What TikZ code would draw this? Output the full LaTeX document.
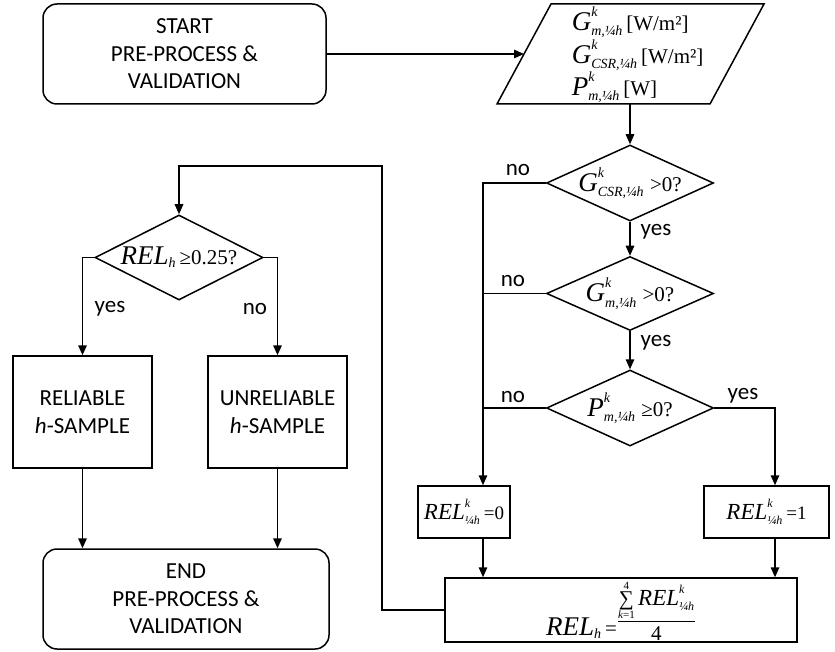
\documentclass[tikz,border=0pt]{standalone}
\usepackage{fontspec}
\setmainfont{Carlito}
\newfontfamily\timesf{Liberation Serif}
\usetikzlibrary{arrows.meta,shapes.geometric}
\newcommand\bigv[1]{\mbox{\fontsize{27}{30}\selectfont\timesf\itshape #1}}
\newcommand\midv[1]{\mbox{\fontsize{23}{27}\selectfont\timesf\itshape #1}}
\newcommand\smv[1]{\mbox{\fontsize{14}{15}\selectfont\timesf\itshape #1}}
\newcommand\ssv[1]{\mbox{\fontsize{12}{13}\selectfont\timesf\itshape #1}}
\newcommand\tnv[1]{\mbox{\fontsize{11}{12}\selectfont\timesf #1}}
\newcommand\rmv[1]{\mbox{\fontsize{21}{24}\selectfont\timesf #1}}
\newcommand\rmsv[1]{\mbox{\fontsize{19}{22}\selectfont\timesf #1}}
\newcommand\myq[3]{\bigv{#1}^{\raisebox{2pt}{\smv{#2}}}_{\smv{#3}}}
\newcommand\myqs[3]{\midv{#1}^{\raisebox{2pt}{\ssv{#2}}}_{\ssv{#3}}}
\begin{document}
\begin{tikzpicture}[x=1pt,y=-1pt,line width=1.5pt,
  >={Triangle[length=10pt,width=8.5pt]},
  box/.style={draw,inner sep=0pt,align=center,font=\fontsize{23}{27.5}\selectfont},
  rbox/.style={box,rounded corners=14pt},
  dia/.style={draw,diamond,inner sep=0pt},
  mtxt/.style={inner sep=0pt,font=\fontsize{22}{26}\selectfont},
  lbl/.style={inner sep=0pt,font=\fontsize{23}{26}\selectfont}]
\useasboundingbox (0,0) rectangle (835,652);

% left column
\node[rbox,minimum width=283pt,minimum height=100pt] (start) at (184.5,54) {START\\PRE-PROCESS \&\\VALIDATION};
\node[dia,minimum width=168pt,minimum height=85pt] (relh) at (179,257.5) {};
\node[mtxt] (relht) at (relh) {$\bigv{REL}_{\smv{h}}\,\rmv{≥0.25?}$};
\node[box,minimum width=139pt,minimum height=112pt] (rel) at (82.5,412) {RELIABLE\\\textit{h}-SAMPLE};
\node[box,minimum width=139pt,minimum height=112pt] (unrel) at (277.5,412) {UNRELIABLE\\\textit{h}-SAMPLE};
\node[rbox,minimum width=286pt,minimum height=100pt] (endb) at (186,599) {END\\PRE-PROCESS \&\\VALIDATION};

% input parallelogram
\coordinate (pa) at (497,104);
\coordinate (pb) at (551,4);
\coordinate (pc) at (764,4);
\coordinate (pd) at (710,104);
\draw (pa) -- (pb) -- (pc) -- (pd) -- cycle;
\coordinate (pin) at (524,54);
\coordinate (pout) at (630,104);
\node[mtxt,anchor=west] (p1) at (571,22) {$\myq{G}{k}{m,¼h}\,\rmv{[W/m²]}$};
\node[mtxt,anchor=west] (p2) at (571,55) {$\myq{G}{k}{CSR,¼h}\,\rmv{[W/m²]}$};
\node[mtxt,anchor=west] (p3) at (571,87) {$\myq{P}{k}{m,¼h}\,\rmv{[W]}$};

% decisions
\node[dia,minimum width=167pt,minimum height=76pt] (d1) at (630,183) {};
\node[mtxt] (d1t) at (d1) {$\myq{G}{k}{CSR,¼h}\;\rmv{>0?}$};
\node[dia,minimum width=167pt,minimum height=74pt] (d2) at (630,293.5) {};
\node[mtxt] (d2t) at (d2) {$\myq{G}{k}{m,¼h}\;\rmv{>0?}$};
\node[dia,minimum width=167pt,minimum height=76pt] (d3) at (630,408) {};
\node[mtxt] (d3t) at (d3) {$\myq{P}{k}{m,¼h}\;\rmv{≥0?}$};

\node[box,minimum width=92pt,minimum height=52pt] (rel0) at (464,512) {};
\node[mtxt] (rel0t) at (rel0) {$\myqs{REL}{k}{¼h}\,\rmsv{=0}$};
\node[box,minimum width=125pt,minimum height=52pt] (rel1) at (766.5,512) {};
\node[mtxt] (rel1t) at (rel1) {$\myqs{REL}{k}{¼h}\,\rmsv{=1}$};
\node[box,minimum width=352pt,minimum height=64pt] (sum) at (621,610) {};
\node[mtxt] (sumt) at (621,611)
  {$\raisebox{-9pt}{$\bigv{REL}_{\smv{h}}\,\rmv{=}$}\displaystyle\frac{\mathop{\rmv{∑}}\limits^{\tnv{4}}_{\tnv{\itshape k\upshape =1}}\myqs{REL}{k}{¼h}}{\rmv{4}}$};

% labels
\node[lbl] (n1) at (518,170) {no};
\node[lbl] (n2) at (513,281) {no};
\node[lbl] (n3) at (513,397) {no};
\node[lbl] (y1) at (656,232) {yes};
\node[lbl] (y2) at (656,343) {yes};
\node[lbl] (y3) at (743,396) {yes};
\node[lbl] (y4) at (110,309) {yes};
\node[lbl] (n4) at (255,309) {no};

% helper coordinates
\coordinate (lx) at (483,183);
\coordinate (rx) at (775,408);
\coordinate (fb) at (382,166);

% connectors
\draw[->] (start.east) -- (pin);
\draw[->] (pout) -- (d1.north);
\draw[->] (d1.south) -- (d2.north);
\draw[->] (d2.south) -- (d3.north);
\draw[->] (d1.west) -- (lx) -- (lx |- rel0.north);
\draw (d2.west) -- (lx |- d2.west);
\draw (d3.west) -- (lx |- d3.west);
\draw[->] (d3.east) -- (rx) -- (rx |- rel1.north);
\draw[->] (lx |- rel0.south) -- (lx |- sum.north);
\draw[->] (rx |- rel1.south) -- (rx |- sum.north);
\draw[->] (sum.west) -| (fb) -| (relh.north);
\draw[->] (relh.west) -| (rel.north);
\draw[->] (relh.east) -| (unrel.north);
\draw[->] (rel.south) -- (rel.south |- endb.north);
\draw[->] (unrel.south) -- (unrel.south |- endb.north);
\end{tikzpicture}
\end{document}
